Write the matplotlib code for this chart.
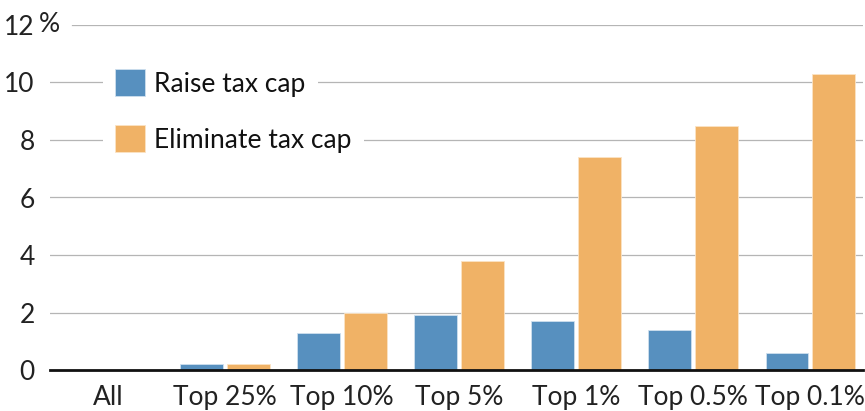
import matplotlib
matplotlib.use("Agg")
import matplotlib.pyplot as plt
import numpy as np

categories = ["All", "Top 25%", "Top 10%", "Top 5%", "Top 1%", "Top 0.5%", "Top 0.1%"]
raise_cap = [0.0, 0.2, 1.3, 1.9, 1.7, 1.4, 0.6]
eliminate_cap = [0.0, 0.2, 2.0, 3.8, 7.4, 8.5, 10.3]
series_names = ["Raise tax cap", "Eliminate tax cap"]
yticks = [0, 2, 4, 6, 8, 10, 12]
ytick_labels = ["0", "2", "4", "6", "8", "10", "12"]

BLUE = "#5790bf"
ORANGE = "#f0b266"
FONT = "Lato"
FS = 19

plt.rcParams["font.family"] = [FONT, "DejaVu Sans"]

W, H = 865, 411
fig = plt.figure(figsize=(W / 100, H / 100), dpi=100)
left, right = 50 / W, 863 / W
bottom, top = (H - 370) / H, (H - 25) / H
ax = fig.add_axes([left, bottom, right - left, top - bottom])

x = np.arange(len(categories))
bw = 0.365
off = 0.2
b1 = ax.bar(x - off, raise_cap, bw, color=BLUE, edgecolor="#cfe0ee", linewidth=0.6, zorder=3)
b2 = ax.bar(x + off, eliminate_cap, bw, color=ORANGE, edgecolor="#fbe3c4", linewidth=0.6, zorder=3)

ax.set_xlim(-0.495, 6.45)
ax.set_ylim(0, 12)

# gridlines
axw_px = (right - left) * W
for v in yticks[1:]:
    xmin = 0.0 if v != 12 else (72 - 50) / axw_px
    ax.axhline(v, xmin=xmin, xmax=1, color="#b5b5b5", linewidth=0.9, zorder=1)
ax.axhline(0, color="#111111", linewidth=2.0, zorder=4, clip_on=False)

for s in ax.spines.values():
    s.set_visible(False)

ax.set_yticks(yticks)
ax.set_yticklabels(ytick_labels)
ax.set_xticks(x)
ax.set_xticklabels(categories)
ax.tick_params(axis="both", length=0, labelsize=FS, colors="#222222")
ax.tick_params(axis="y", pad=11)
ax.tick_params(axis="x", pad=11)
for lab in ax.get_yticklabels():
    lab.set_horizontalalignment("right")

# percent sign after top label
ax.text(-0.495 - 11 / 117.4, 12, "%", fontsize=FS, color="#222222",
        ha="left", va="center", transform=ax.transData)

# legends: one per series, white background without frame edge
common = dict(fontsize=FS, frameon=True, fancybox=False, borderpad=0.45,
              handlelength=1.15, handleheight=1.15, handletextpad=0.35,
              borderaxespad=0, loc="center left", bbox_transform=fig.transFigure)
leg1 = ax.legend([b1], [series_names[0]], bbox_to_anchor=(103 / W, 1 - 83 / H), **common)
leg1.get_frame().set_facecolor("white")
leg1.get_frame().set_edgecolor("none")
leg1.get_frame().set_alpha(1)
leg1.set_zorder(5)
ax.add_artist(leg1)
leg2 = ax.legend([b2], [series_names[1]], bbox_to_anchor=(103 / W, 1 - 139 / H), **common)
leg2.get_frame().set_facecolor("white")
leg2.get_frame().set_edgecolor("none")
leg2.get_frame().set_alpha(1)
leg2.set_zorder(5)
for lg in (leg1, leg2):
    for t in lg.get_texts():
        t.set_color("#111111")

fig.savefig("out.png", dpi=100)
